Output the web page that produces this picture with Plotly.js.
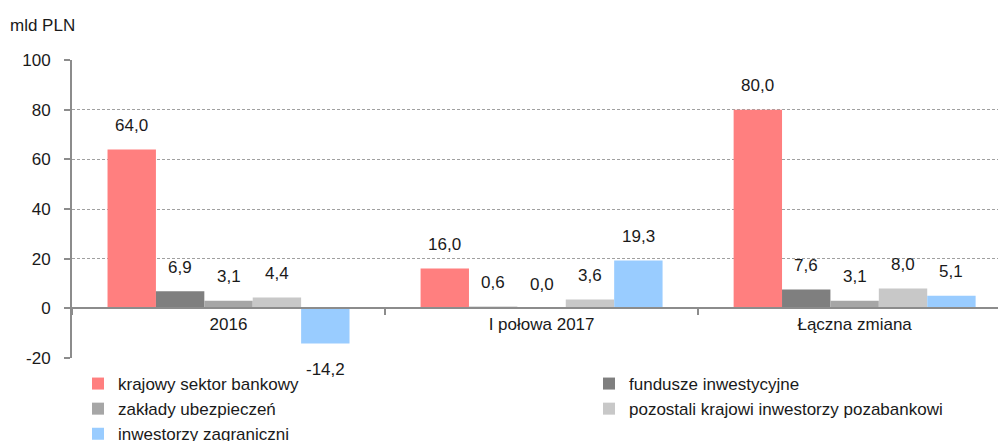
<!DOCTYPE html>
<html>
<head>
<meta charset="utf-8">
<script src="https://cdn.plot.ly/plotly-3.0.1.min.js"></script>
<style>html,body{margin:0;padding:0;background:#fff;}#chart{width:998px;height:441px;}</style>
</head>
<body>
<div id="chart"></div>
<script>
const categories = ["2016", "I połowa 2017", "Łączna zmiana"];
const seriesNames = [
  "krajowy sektor bankowy",
  "fundusze inwestycyjne",
  "zakłady ubezpieczeń",
  "pozostali krajowi inwestorzy pozabankowi",
  "inwestorzy zagraniczni"
];
const bankowy = [64.0, 16.0, 80.0];
const fundusze = [6.9, 0.6, 7.6];
const ubezpieczenia = [3.1, 0.0, 3.1];
const pozostali = [4.4, 3.6, 8.0];
const zagraniczni = [-14.2, 19.3, 5.1];
const seriesValues = [bankowy, fundusze, ubezpieczenia, pozostali, zagraniczni];
const yTickVals = [-20, 0, 20, 40, 60, 80, 100];
const yTickText = ["-20", "0", "20", "40", "60", "80", "100"];
const colors = ["#FF7F7F", "#7F7F7F", "#A6A6A6", "#C8C8C8", "#99CCFF"];
const legendOf = ["legend", "legend2", "legend", "legend2", "legend"];

const FONT = "Liberation Sans, Arial, sans-serif";
const bargap = 0.227;
const nS = seriesValues.length;
const bw = (1 - bargap) / nS;

const traces = seriesValues.map((vals, j) => ({
  type: "bar",
  name: seriesNames[j],
  x: categories,
  y: vals,
  marker: {color: colors[j], line: {width: 0}},
  legend: legendOf[j],
  hoverinfo: "skip"
}));

const annotations = [];
seriesValues.forEach((vals, j) => {
  vals.forEach((v, i) => {
    annotations.push({
      xref: "x", yref: "y",
      x: i + (j - (nS - 1) / 2) * bw,
      y: v,
      text: v.toFixed(1).replace(".", ","),
      showarrow: false,
      xanchor: "center", yanchor: "middle",
      yshift: v < 0 ? -26 : 24,
      font: {family: FONT, size: 17, color: "#1a1a1a"}
    });
  });
});

const layout = {
  width: 998, height: 441,
  margin: {l: 72, r: 0, t: 60, b: 83, autoexpand: false},
  paper_bgcolor: "#fff", plot_bgcolor: "#fff",
  font: {family: FONT, size: 17, color: "#1a1a1a"},
  title: {
    text: "mld PLN",
    x: 10 / 998, xanchor: "left", xref: "container",
    y: 1 - 25 / 441, yanchor: "middle", yref: "container",
    font: {family: FONT, size: 17, color: "#1a1a1a"}
  },
  barmode: "group",
  bargap: bargap,
  bargroupgap: 0,
  xaxis: {
    type: "category",
    range: [-0.5, 2.458],
    anchor: "free",
    position: 20 / 120,
    showline: true, linecolor: "#8c8c8c", linewidth: 2,
    ticks: "outside", tickson: "boundaries", ticklen: 6, tickcolor: "#8c8c8c", tickwidth: 2,
    showgrid: false, zeroline: false,
    tickfont: {family: FONT, size: 17, color: "#1a1a1a"},
    fixedrange: true
  },
  yaxis: {
    range: [-20, 100],
    tickmode: "array", tickvals: yTickVals, ticktext: yTickText,
    showline: true, linecolor: "#8c8c8c", linewidth: 2,
    ticks: "outside", ticklen: 6, tickcolor: "#8c8c8c", tickwidth: 2,
    showgrid: true, gridcolor: "#a0a0a0", gridwidth: 1, griddash: "3px,2px",
    zeroline: false,
    tickfont: {family: FONT, size: 17, color: "#1a1a1a"},
    ticklabelstandoff: 10,
    fixedrange: true
  },
  legend: {
    orientation: "v",
    x: (78 - 72) / 926, xanchor: "left",
    y: -8 / 298, yanchor: "top",
    font: {family: FONT, size: 17, color: "#1a1a1a"},
    bgcolor: "rgba(0,0,0,0)", borderwidth: 0,
    tracegroupgap: 0
  },
  legend2: {
    orientation: "v",
    x: (589 - 72) / 926, xanchor: "left",
    y: -8 / 298, yanchor: "top",
    font: {family: FONT, size: 17, color: "#1a1a1a"},
    bgcolor: "rgba(0,0,0,0)", borderwidth: 0,
    tracegroupgap: 0
  },
  annotations: annotations,
  separators: ", "
};

Plotly.newPlot("chart", traces, layout, {displayModeBar: false, staticPlot: true});
</script>
</body>
</html>
